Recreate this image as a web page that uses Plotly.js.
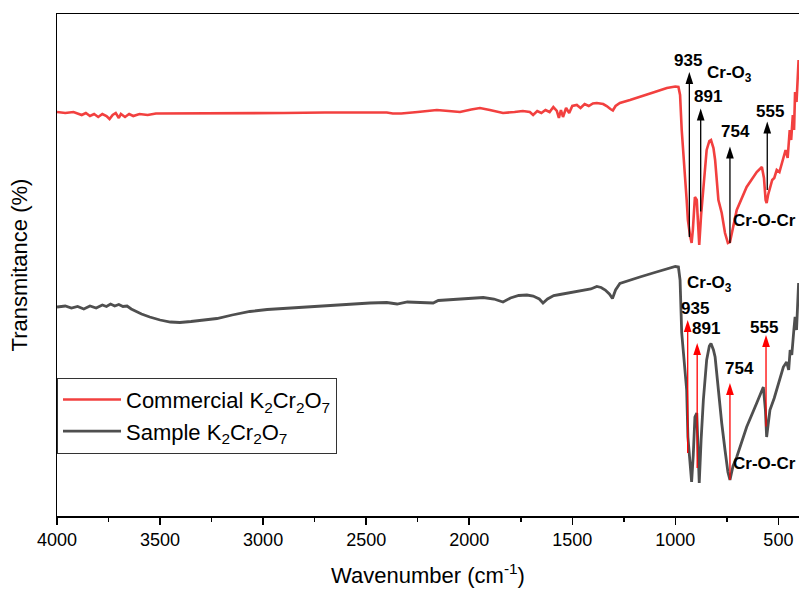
<!DOCTYPE html>
<html>
<head>
<meta charset="utf-8">
<script src="https://cdn.plot.ly/plotly-3.0.1.min.js"></script>
<style>html,body{margin:0;padding:0;background:#fff;}#chart{width:799px;height:590px;}</style>
</head>
<body>
<div id="chart"></div>
<script>
// Wavenumber (cm-1) and transmittance (arbitrary %)
const commercialWn = [4000,3960,3920,3880,3860,3840,3820,3800,3780,3760,3745,3730,3715,3700,3690,3670,3650,3630,3600,3560,3520,3450,3300,3100,2900,2700,2580,2450,2400,2371,2330,2250,2157,2100,2045,1990,1948,1900,1836,1780,1740,1706,1690,1670,1650,1630,1610,1592,1575,1565,1555,1545,1530,1515,1500,1478,1460,1440,1420,1400,1381,1350,1333,1315,1303,1290,1269,1220,1172,1100,1041,1000,985,977,969,961,953,945,939,929,921,915,910,905,896,890,884,875,864,848,835,827,815,807,791,775,759,745,735,720,702,654,605,580,570,562,557,550,541,530,520,508,495,476,465,455,445,438,430,424,419,412,406,402];
const commercialT  = [80.8,80.6,80.8,80.2,80.6,80.0,80.4,79.8,80.4,80.0,79.4,80.2,80.6,79.6,80.4,79.8,80.4,80.0,80.4,80.2,80.5,80.5,80.6,80.6,80.6,80.7,80.7,80.8,80.7,80.5,80.5,80.8,81.2,81.0,80.8,81.3,81.6,81.2,80.6,80.8,81.0,80.8,80.2,81.0,80.6,81.2,80.8,81.8,81.0,79.6,81.2,79.8,81.6,80.6,82.0,82.2,81.6,82.4,82.0,82.5,82.6,82.4,82.0,81.4,81.1,82.0,82.6,83.2,83.8,84.8,85.6,85.9,85.8,84.2,77.2,73.2,67.8,63.2,59.2,56.2,54.6,57.2,62.2,63.8,63.2,59.2,54.2,60.2,65.8,73.2,75.0,75.2,73.6,71.2,63.2,60.6,56.6,54.6,54.8,58.0,61.2,65.8,68.8,69.8,67.6,63.2,62.6,64.2,65.8,67.2,67.6,69.2,68.8,71.8,73.2,71.6,77.2,75.2,80.2,77.2,84.8,82.8,87.2,91.2];

const sampleWn = [4000,3960,3930,3900,3870,3840,3810,3780,3760,3740,3720,3700,3680,3660,3640,3620,3590,3550,3500,3450,3404,3350,3300,3224,3150,3064,2980,2904,2820,2740,2650,2579,2482,2400,2350,2300,2175,2150,2050,1980,1932,1880,1836,1800,1760,1720,1690,1660,1642,1620,1590,1560,1520,1480,1446,1410,1381,1360,1340,1320,1305,1290,1269,1220,1172,1100,1041,1000,985,977,969,961,953,945,939,929,921,913,905,896,890,884,875,864,848,835,827,815,807,791,775,759,745,735,720,702,654,605,573,563,557,550,541,520,508,490,476,460,450,443,435,425,419,412,406,402];
const sampleT  = [41.8,42.0,41.6,41.9,41.4,42.0,41.6,42.2,41.9,42.4,42.0,42.3,41.9,42.0,41.4,41.0,40.4,39.8,39.2,38.8,38.7,38.9,39.1,39.5,40.2,40.9,41.3,41.5,41.8,42.0,42.2,42.3,42.6,42.7,42.4,42.8,42.6,43.1,43.4,43.7,43.7,43.4,42.8,43.6,44.1,44.2,44.0,43.4,42.6,43.4,44.1,44.3,44.6,44.8,45.1,45.4,45.9,45.7,45.2,44.4,43.5,45.2,46.5,47.2,47.8,48.7,49.4,49.9,49.8,47.2,36.6,32.6,28.8,25.2,15.8,9.8,6.8,12.2,19.8,20.6,14.2,6.6,15.2,23.2,31.2,34.0,34.5,33.2,31.8,24.6,18.6,13.2,8.8,7.2,10.0,11.8,17.8,22.6,25.8,21.2,15.8,18.2,21.2,23.6,25.2,27.6,29.8,30.8,29.2,33.2,32.2,37.2,39.8,37.2,43.2,46.6];

const xTickVals = [4000,3500,3000,2500,2000,1500,1000,500];
const xTickText = ['4000','3500','3000','2500','2000','1500','1000','500'];

// Peak labels
const peakLabels = ['935','891','754','555'];
// top (commercial) annotations: arrow x, tip y, tail y, label x, label y
const topArrowX = [932,877,735,554];
const topArrowTip = [88.8,81.5,73.9,78.9];
const topArrowTail = [55.8,60.9,54.6,65.2];
const topLabelX = [939,841,710,541];
const topLabelY = [91.2,83.9,76.9,80.9];
// bottom (sample) annotations
const botArrowX = [940,894,735,560];
const botArrowTip = [39.2,34.6,26.6,36.2];
const botArrowTail = [12.6,9.6,7.2,17.9];
const botLabelX = [905,851,690,570];
const botLabelY = [41.5,37.5,29.5,37.7];
// group labels for Cr-O3 and Cr-O-Cr
const groupNames = ['Cr-O<sub>3</sub>','Cr-O-Cr'];
const topGroupX = [735,565], topGroupY = [88.5,59.2];
const botGroupX = [832,565], botGroupY = [46.5,10.5];

const FONT = 'Liberation Sans, Arial, sans-serif';

function arrowTraces(xs, tips, tails, color) {
  const sx = [], sy = [];
  xs.forEach((x, i) => { sx.push(x, x, null); sy.push(tails[i], tips[i] - 1.2, null); });
  return [
    {x: sx, y: sy, type: 'scatter', mode: 'lines', showlegend: false, hoverinfo: 'skip',
     line: {color: color, width: 1.3}},
    {x: xs, y: tips, type: 'scatter', mode: 'markers', showlegend: false, hoverinfo: 'skip',
     marker: {symbol: 'arrow', size: 12.5, angle: 0, color: color, line: {width: 0}}}
  ];
}

const annotations = [];
function addTexts(xs, ys, texts) {
  xs.forEach((x, i) => annotations.push({
    x: x, y: ys[i], xref: 'x', yref: 'y', text: '<b>' + texts[i] + '</b>',
    showarrow: false, font: {family: FONT, size: 17, color: '#000'}
  }));
}
addTexts(topLabelX, topLabelY, peakLabels);
addTexts(botLabelX, botLabelY, peakLabels);
addTexts(topGroupX, topGroupY, groupNames);
addTexts(botGroupX, botGroupY, groupNames);

const traces = [
  {x: commercialWn, y: commercialT, type: 'scatter', mode: 'lines',
   name: 'Commercial K<sub>2</sub>Cr<sub>2</sub>O<sub>7</sub>',
   line: {color: '#f2403f', width: 2.6}},
  {x: sampleWn, y: sampleT, type: 'scatter', mode: 'lines',
   name: 'Sample K<sub>2</sub>Cr<sub>2</sub>O<sub>7</sub>',
   line: {color: '#4f4f4f', width: 2.8}}
].concat(arrowTraces(topArrowX, topArrowTip, topArrowTail, '#000000'))
 .concat(arrowTraces(botArrowX, botArrowTip, botArrowTail, '#ff0000'));

const layout = {
  width: 799, height: 590,
  margin: {l: 57, r: 0, t: 14, b: 74},
  paper_bgcolor: '#fff', plot_bgcolor: '#fff',
  font: {family: FONT, color: '#000'},
  showlegend: true,
  legend: {x: 0, y: 0.2755, xanchor: 'left', yanchor: 'top', bgcolor: '#fff',
           bordercolor: '#333', borderwidth: 1, font: {family: FONT, size: 22, color: '#000'},
           itemwidth: 58, tracegroupgap: 0},
  xaxis: {range: [4000, 400], tickvals: xTickVals, ticktext: xTickText,
          ticks: 'outside', ticklen: 7, tickwidth: 1.5, tickcolor: '#000',
          minor: {dtick: 250, ticks: 'outside', ticklen: 4, tickwidth: 1.5, tickcolor: '#000'},
          showline: true, linecolor: '#000', linewidth: 1.5, mirror: true,
          showgrid: false, zeroline: false,
          tickfont: {family: FONT, size: 18, color: '#000'},
          title: {text: 'Wavenumber (cm<sup>-1</sup>)', font: {family: FONT, size: 22, color: '#000'}, standoff: 18}},
  yaxis: {range: [0, 100.4], showticklabels: false, ticks: '',
          showline: true, linecolor: '#000', linewidth: 1.5, mirror: true,
          showgrid: false, zeroline: false,
          title: {text: 'Transmitance (%)', font: {family: FONT, size: 22, color: '#000'}, standoff: 22}},
  annotations: annotations
};

Plotly.newPlot('chart', traces, layout, {displayModeBar: false, staticPlot: true});
</script>
</body>
</html>
